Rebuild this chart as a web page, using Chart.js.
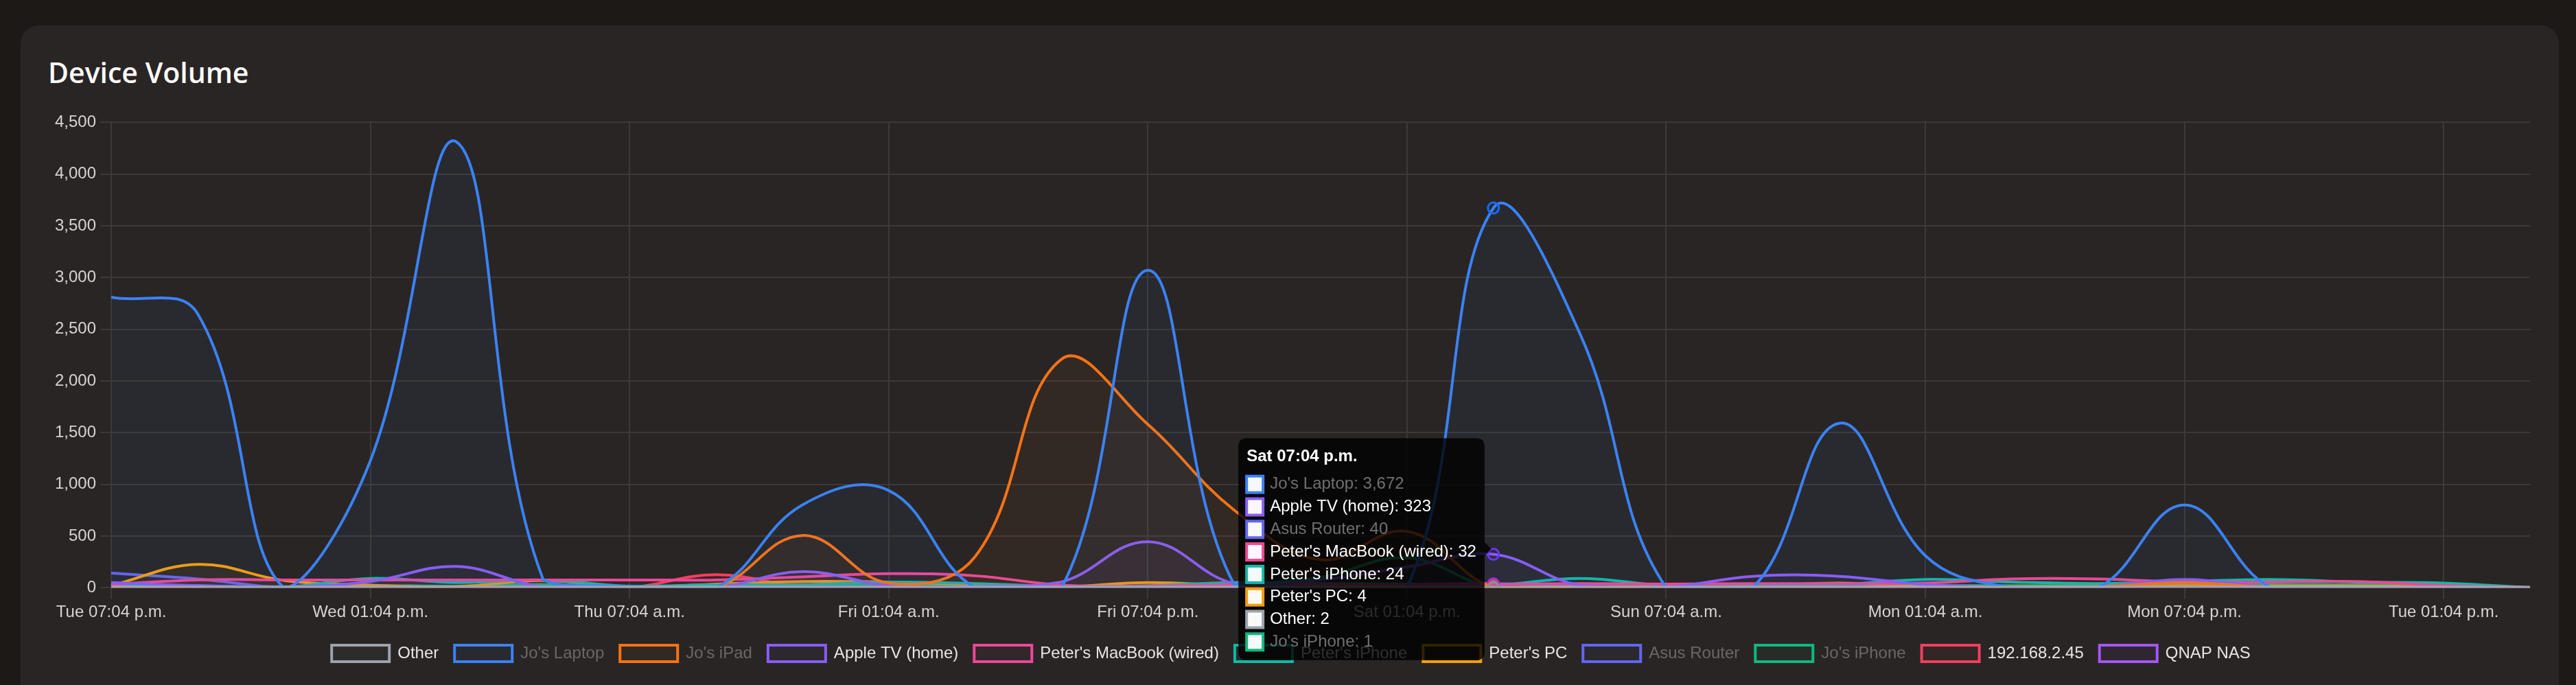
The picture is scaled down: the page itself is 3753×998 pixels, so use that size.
<!DOCTYPE html>
<html>
<head>
<meta charset="utf-8">
<title>Device Volume</title>
<script src="https://cdn.jsdelivr.net/npm/chart.js@4.4.1/dist/chart.umd.min.js"></script>
<style>
    html, body { margin: 0; padding: 0; width: 3753px; height: 998px; overflow: hidden; background: #1c1917; }
    .card { position: absolute; left: 30px; top: 37px; width: 3698px; height: 1000px; background: #292524; border-radius: 26px; }
    .card h2 { position: absolute; left: 40px; top: 48px; margin: 0; font-family: 'Open Sans', sans-serif; font-weight: 600; font-size: 41px; line-height: 1; color: #fafaf9; }
    .chart-wrap { position: absolute; left: 40px; top: 121px; width: 3618px; height: 816px; }
</style>
</head>
<body>
<div class="card">
    <h2>Device Volume</h2>
    <div class="chart-wrap"><canvas id="device-volume-canvas"></canvas></div>
</div>
<script>
// x labels, one every 6 hours
const timeLabels = [
    'Tue 07:04 p.m.', 'Wed 01:04 a.m.', 'Wed 07:04 a.m.', 'Wed 01:04 p.m.', 'Wed 07:04 p.m.',
    'Thu 01:04 a.m.', 'Thu 07:04 a.m.', 'Thu 01:04 p.m.', 'Thu 07:04 p.m.',
    'Fri 01:04 a.m.', 'Fri 07:04 a.m.', 'Fri 01:04 p.m.', 'Fri 07:04 p.m.',
    'Sat 01:04 a.m.', 'Sat 07:04 a.m.', 'Sat 01:04 p.m.', 'Sat 07:04 p.m.',
    'Sun 01:04 a.m.', 'Sun 07:04 a.m.', 'Sun 01:04 p.m.', 'Sun 07:04 p.m.',
    'Mon 01:04 a.m.', 'Mon 07:04 a.m.', 'Mon 01:04 p.m.', 'Mon 07:04 p.m.',
    'Tue 01:04 a.m.', 'Tue 07:04 a.m.', 'Tue 01:04 p.m.', 'Tue 07:04 p.m.'
];

const deviceNames = [
    'Other', "Jo's Laptop", "Jo's iPad", 'Apple TV (home)', "Peter's MacBook (wired)", "Peter's iPhone",
    "Peter's PC", 'Asus Router', "Jo's iPhone", '192.168.2.45', 'QNAP NAS'
];
const deviceColors = [
    '#9ca3af', '#3b82f6', '#f97316', '#8b5cf6', '#ec4899', '#14b8a6',
    '#f59e0b', '#6366f1', '#10b981', '#f43f5e', '#a855f7'
];
// names that are blurred out in the original screenshot
const blurredNames = ["Jo's Laptop", "Jo's iPad", 'Asus Router', "Jo's iPhone"];

const otherValues = [8, 6, 5, 6, 5, 6, 5, 6, 5, 4, 5, 6, 5, 6, 4, 3, 2, 4, 5, 6, 5, 6, 5, 6, 5, 6, 5, 6, 5];
const joLaptopValues = [2810, 2650, 0, 1230, 4310, 80, 10, 0, 800, 940, 0, 0, 3070, 30, 5, 0, 3672, 2460, 0, 0, 1590, 310, 0, 0, 800, 0, 0, 0, 0];
const joIpadValues = [0, 0, 0, 0, 0, 0, 0, 0, 505, 45, 300, 2210, 1580, 750, 270, 545, 0, 0, 0, 0, 0, 0, 0, 10, 50, 5, 0, 0, 0];
const appleTvValues = [50, 20, 5, 60, 205, 5, 0, 0, 155, 20, 10, 55, 445, 40, 75, 200, 323, 20, 5, 110, 110, 30, 5, 5, 80, 5, 0, 0, 0];
const macbookValues = [30, 75, 75, 75, 75, 75, 75, 75, 105, 135, 115, 25, 15, 30, 30, 30, 32, 40, 35, 40, 40, 45, 85, 85, 55, 55, 60, 22, 0];
const peterIphoneValues = [20, 20, 5, 90, 50, 75, 15, 30, 30, 55, 40, 15, 20, 50, 40, 35, 24, 90, 20, 15, 30, 80, 55, 40, 60, 80, 55, 45, 0];
const peterPcValues = [20, 225, 70, 25, 10, 70, 5, 35, 60, 55, 30, 10, 50, 20, 10, 8, 4, 10, 10, 15, 45, 15, 10, 10, 20, 15, 15, 10, 0];
const asusRouterValues = [140, 85, 0, 5, 10, 5, 5, 5, 5, 5, 5, 5, 5, 10, 20, 30, 40, 15, 5, 5, 5, 5, 5, 5, 10, 5, 5, 5, 0];
const joIphoneValues = [10, 10, 10, 20, 15, 30, 10, 15, 20, 25, 20, 10, 10, 30, 100, 290, 1, 10, 10, 10, 15, 20, 20, 20, 25, 30, 30, 25, 0];
const ipAddrValues = [0, 0, 0, 0, 0, 0, 0, 125, 10, 0, 0, 0, 0, 0, 0, 0, 0, 0, 0, 0, 0, 0, 0, 0, 0, 0, 0, 0, 0];
const qnapValues = [0, 0, 0, 0, 0, 0, 0, 0, 0, 0, 0, 0, 5, 0, 0, 0, 0, 0, 0, 0, 0, 0, 0, 0, 30, 0, 0, 0, 0];

const deviceValues = [
    otherValues, joLaptopValues, joIpadValues, appleTvValues, macbookValues, peterIphoneValues,
    peterPcValues, asusRouterValues, joIphoneValues, ipAddrValues, qnapValues
];

document.addEventListener('DOMContentLoaded', () => {
    const ctx = document.getElementById('device-volume-canvas').getContext('2d');
    const gridColor = '#3d3937';

    Chart.defaults.font.family = "'Liberation Sans', Arial, sans-serif";
    Chart.defaults.font.size = 24;
    Chart.defaults.color = '#d6d3d1';

    const datasets = deviceNames.map((name, i) => ({
        label: name,
        data: deviceValues[i],
        borderColor: deviceColors[i],
        backgroundColor: deviceColors[i] + '0d',
        borderWidth: 4,
        fill: true,
        tension: 0.4,
        pointRadius: 0,
        pointHoverRadius: 8,
        pointHoverBorderWidth: 3,
    }));

    const chart = new Chart(ctx, {
        type: 'line',
        data: { labels: timeLabels, datasets: datasets },
        options: {
            responsive: true,
            maintainAspectRatio: false,
            animation: false,
            interaction: { mode: 'index', intersect: false },
            layout: { padding: { left: 4 } },
            scales: {
                x: {
                    grid: { color: gridColor, lineWidth: 2, tickLength: 16 },
                    border: { color: gridColor, width: 2 },
                    ticks: {
                        autoSkip: false,
                        maxRotation: 0,
                        padding: 6,
                        // only every third label (18 hours) is shown
                        callback: (value, index) => (index % 3 === 0 && index < timeLabels.length - 1) ? timeLabels[index] : null,
                    },
                    afterFit: (scale) => { scale.height += 4; },
                },
                y: {
                    min: 0,
                    max: 4500,
                    grid: { color: gridColor, lineWidth: 2, tickLength: 16 },
                    border: { color: gridColor, width: 2 },
                    ticks: { stepSize: 500, padding: 6 },
                },
            },
            plugins: {
                legend: {
                    position: 'bottom',
                    labels: {
                        boxWidth: 84,
                        boxHeight: 24,
                        padding: 23,
                        generateLabels: (c) => Chart.defaults.plugins.legend.labels.generateLabels(c).map(item => ({
                            ...item,
                            fontColor: blurredNames.includes(item.text) ? '#6b6765' : '#e7e5e4',
                        })),
                    },
                },
                tooltip: {
                    backgroundColor: 'rgba(0, 0, 0, 0.8)',
                    titleFont: { size: 24, weight: 'bold' },
                    bodyFont: { size: 24 },
                    padding: 12,
                    caretSize: 10,
                    caretPadding: 4,
                    cornerRadius: 12,
                    bodySpacing: 4,
                    titleMarginBottom: 12,
                    boxPadding: 8,
                    itemSort: (a, b) => b.raw - a.raw,
                    filter: (item) => item.raw > 0,
                    callbacks: {
                        labelTextColor: (item) => blurredNames.includes(item.dataset.label) ? '#707070' : '#ffffff',
                    },
                },
            },
        },
    });

    // Show the tooltip for Saturday evening like in the screenshot
    const activeIndex = timeLabels.indexOf('Sat 07:04 p.m.');
    const active = deviceNames.map((_, i) => ({ datasetIndex: i, index: activeIndex }));
    chart.setActiveElements(active);
    chart.tooltip.setActiveElements(active, { x: 0, y: 0 });
    chart.update();
});
</script>
</body>
</html>
